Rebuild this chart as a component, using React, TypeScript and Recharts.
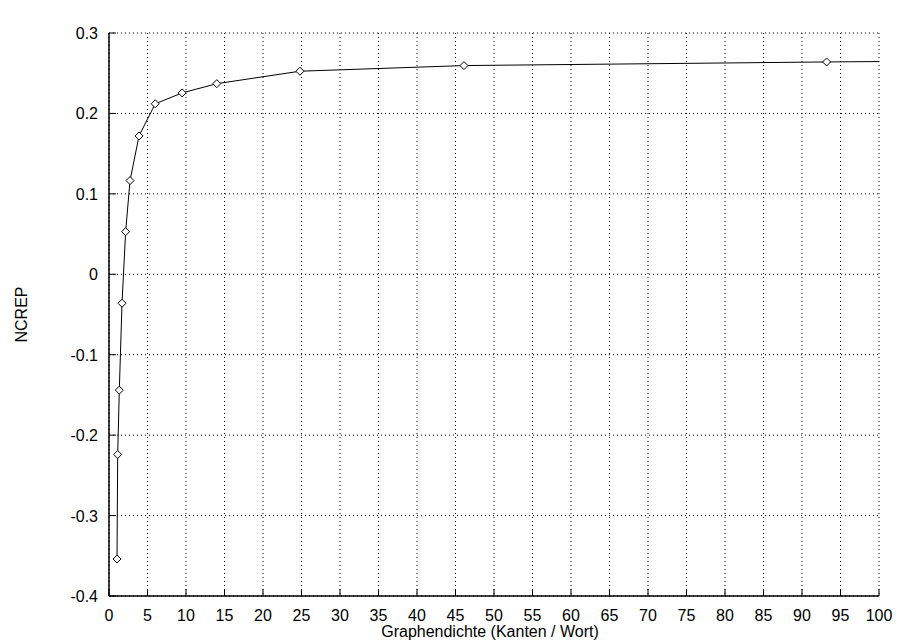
import { ScatterChart, Scatter, XAxis, YAxis, CartesianGrid } from "recharts";

// Messpunkte: Graphendichte (Kanten / Wort) gegen NCREP
const dichte = [1.04, 1.13, 1.34, 1.69, 2.16, 2.73, 3.9, 6.0, 9.5, 14.0, 24.8, 46.1, 93.2];
const ncrep = [-0.354, -0.224, -0.144, -0.036, 0.053, 0.1165, 0.172, 0.212, 0.2255, 0.237, 0.2525, 0.2595, 0.264];
// Kurve läuft nach dem letzten Punkt bis zum rechten Rand weiter
const tailX = [100];
const tailY = [0.2645];

const xTicks = [0, 5, 10, 15, 20, 25, 30, 35, 40, 45, 50, 55, 60, 65, 70, 75, 80, 85, 90, 95, 100];
const yTicks = [-0.4, -0.3, -0.2, -0.1, 0, 0.1, 0.2, 0.3];

const FONT = "'Liberation Sans', Arial, Helvetica, sans-serif";
const TICK_LEN = 7;

const points = dichte.map((x, i) => ({ x, y: ncrep[i] }));
const curve = [...points, ...tailX.map((x, i) => ({ x, y: tailY[i] }))];

const fmtY = (v: number) => (v === 0 ? "0" : v.toFixed(1));

function BottomTick({ x, y, payload }: any) {
  return (
    <g>
      <line x1={x} y1={y} x2={x} y2={y - TICK_LEN} stroke="#000" />
      <text x={x} y={y + 25} textAnchor="middle" fontSize={16} fontFamily={FONT} fill="#000">
        {payload.value}
      </text>
    </g>
  );
}

function TopTick({ x, y }: any) {
  return <line x1={x} y1={y} x2={x} y2={y + TICK_LEN} stroke="#000" />;
}

function LeftTick({ x, y, payload }: any) {
  return (
    <g>
      <line x1={x} y1={y} x2={x + TICK_LEN} y2={y} stroke="#000" />
      <text x={x - 11} y={y + 6} textAnchor="end" fontSize={16} fontFamily={FONT} fill="#000">
        {fmtY(payload.value)}
      </text>
    </g>
  );
}

function RightTick({ x, y }: any) {
  return <line x1={x} y1={y} x2={x - TICK_LEN} y2={y} stroke="#000" />;
}

function Diamond({ cx, cy }: any) {
  return (
    <path
      d={`M${cx},${cy - 4}L${cx + 4},${cy}L${cx},${cy + 4}L${cx - 4},${cy}Z`}
      fill="#fff"
      stroke="#000"
      strokeWidth={1}
    />
  );
}

export default function App() {
  return (
    <div style={{ position: "absolute", left: 0, top: 0, background: "#fff" }}>
      <ScatterChart
        width={899}
        height={643}
        margin={{ top: 33, right: 20, bottom: 6, left: 5 }}
      >
        <CartesianGrid stroke="#000" strokeDasharray="1 3" strokeWidth={1} />
        <XAxis
          dataKey="x"
          type="number"
          domain={[0, 100]}
          ticks={xTicks}
          height={41}
          tickSize={0}
          tickMargin={0}
          tickLine={false}
          tick={<BottomTick />}
          axisLine={{ stroke: "#000", strokeWidth: 1.5 }}
          label={{
            content: ({ viewBox }: any) => (
              <text
                x={viewBox.x + viewBox.width / 2 - 4}
                y={viewBox.y + 41}
                textAnchor="middle"
                fontSize={16}
                fontFamily={FONT}
                fill="#000"
              >
                Graphendichte (Kanten / Wort)
              </text>
            ),
          }}
        />
        <XAxis
          xAxisId="top"
          orientation="top"
          type="number"
          domain={[0, 100]}
          ticks={xTicks}
          height={0}
          tickSize={0}
          tickMargin={0}
          tickLine={false}
          tick={<TopTick />}
          axisLine={{ stroke: "#000", strokeWidth: 1.5 }}
          label={{
            content: ({ viewBox }: any) => (
              <text
                x={viewBox.x + viewBox.width / 2 - 7}
                y={21}
                textAnchor="middle"
                fontSize={16}
                fontFamily={FONT}
                fill="#000"
              >
                Relative Kreuzentropie (NCREP) vs. Graphendichte
              </text>
            ),
          }}
        />
        <YAxis
          dataKey="y"
          type="number"
          domain={[-0.4, 0.3]}
          ticks={yTicks}
          width={104}
          tickSize={0}
          tickMargin={0}
          tickLine={false}
          tick={<LeftTick />}
          axisLine={{ stroke: "#000", strokeWidth: 1.5 }}
          label={{
            content: ({ viewBox }: any) => {
              const lx = viewBox.x + 22;
              const ly = viewBox.y + viewBox.height / 2;
              return (
                <text
                  x={lx}
                  y={ly}
                  transform={`rotate(-90, ${lx}, ${ly})`}
                  textAnchor="middle"
                  fontSize={16}
                  fontFamily={FONT}
                  fill="#000"
                >
                  NCREP
                </text>
              );
            },
          }}
        />
        <YAxis
          yAxisId="right"
          orientation="right"
          type="number"
          domain={[-0.4, 0.3]}
          ticks={yTicks}
          width={0}
          tickSize={0}
          tickMargin={0}
          tickLine={false}
          tick={<RightTick />}
          axisLine={{ stroke: "#000", strokeWidth: 1.5 }}
        />
        <Scatter
          data={curve}
          line={{ stroke: "#000", strokeWidth: 1 }}
          lineType="joint"
          shape={() => <g />}
          isAnimationActive={false}
        />
        <Scatter data={points} shape={<Diamond />} isAnimationActive={false} />
      </ScatterChart>
    </div>
  );
}
